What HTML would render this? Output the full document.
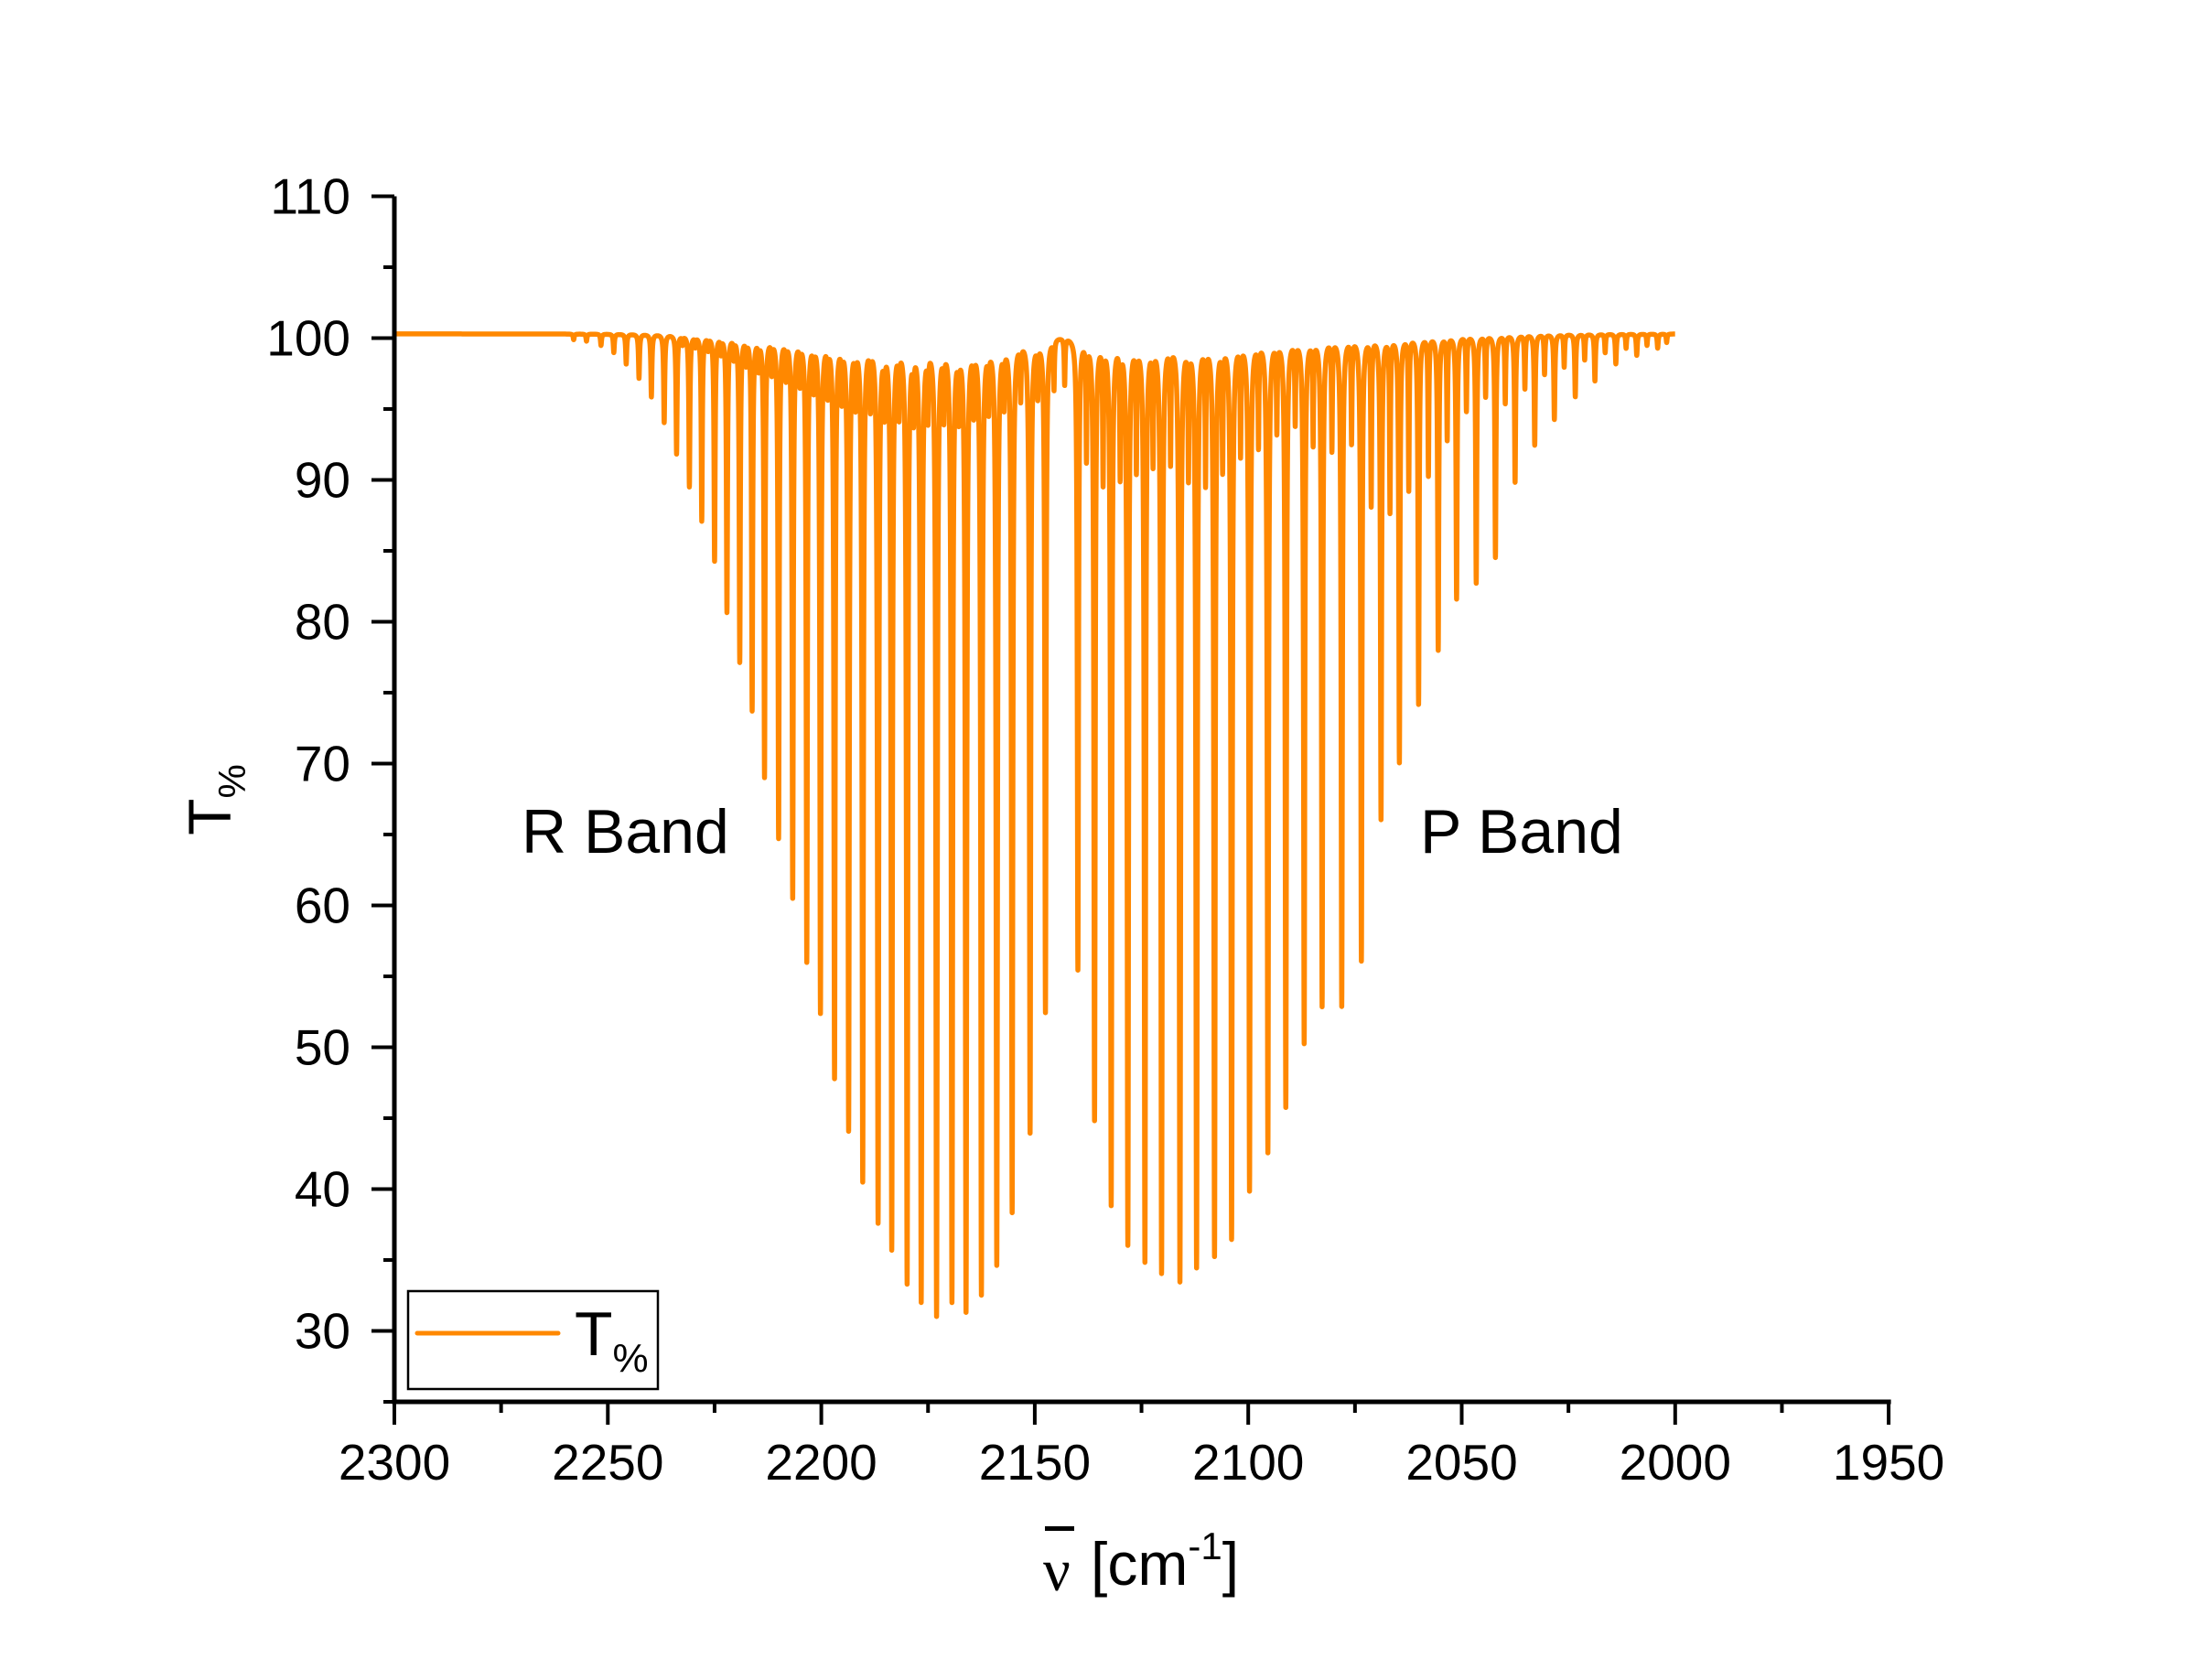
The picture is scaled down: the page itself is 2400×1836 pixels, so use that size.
<!DOCTYPE html>
<html><head><meta charset="utf-8">
<style>
html,body{margin:0;padding:0;background:#fff;}
svg{display:block;font-family:"Liberation Sans",Arial,sans-serif;}
</style></head>
<body>
<svg id="chart" width="2400" height="1836" viewBox="0 0 2400 1836" xmlns="http://www.w3.org/2000/svg">
<rect width="2400" height="1836" fill="#fff"/>
<g id="plot"></g>
<g id="axes"></g>
<text x="570" y="932" font-size="68">R Band</text>
<text x="1552" y="932" font-size="68">P Band</text>
<text transform="translate(252,874) rotate(-90)" text-anchor="middle" font-size="66">T<tspan font-size="42" dy="16">%</tspan></text>
<g>
<text x="1140" y="1738" font-size="66" font-family="Liberation Serif,serif">ν</text>
<rect x="1142" y="1668" width="32" height="5" fill="#000"/>
<text x="1192" y="1732" font-size="66">[cm<tspan font-size="42" dy="-28">-1</tspan><tspan dy="28">]</tspan></text>
</g>
<g>
<rect x="446" y="1411" width="273" height="107" fill="#fff" stroke="#000" stroke-width="2.5"/>
<line x1="456" y1="1457" x2="610" y2="1457" stroke="#ff8800" stroke-width="5" stroke-linecap="round"/>
<text x="628" y="1481" font-size="68">T<tspan font-size="44" dy="18">%</tspan></text>
</g>
</svg>
<script>
// Main R-branch lines: wavenumber, minimum transmittance
const rPos=[2258,2255,2251.6,2248.6,2245.7,2242.7,2239.8,2236.8,2233.9,2230.9,2228.0,2225.0,2222.1,2219.1,2216.2,2213.3,2210.0,2206.7,2203.4,2200.2,2196.9,2193.6,2190.3,2186.7,2183.5,2179.9,2176.6,2173.0,2169.4,2166.1,2162.5,2158.9,2155.3,2151.1,2147.5];
const rMin=[99.9,99.8,99.5,99.0,98.2,97.2,95.9,94.1,91.9,89.6,87.2,84.4,80.8,77.3,73.9,69.2,64.9,60.7,56.2,52.6,48.0,44.3,40.7,37.8,35.9,33.5,32.2,31.2,32.2,31.5,32.7,34.8,38.5,44.1,52.6];
// Main P-branch lines
const pPos=[2139.9,2136.0,2132.1,2128.2,2124.2,2120.3,2116.0,2112.1,2107.9,2103.9,2099.7,2095.4,2091.2,2086.9,2082.7,2078.1,2073.5,2068.9,2064.6,2060.1,2055.5,2051.2,2046.6,2042.1,2037.5,2032.9,2028.3,2023.4,2018.8,2013.9,2009.0,2004.1];
const pMin=[55.6,45.0,39.0,36.2,35.0,34.2,33.6,34.6,35.4,36.6,40.0,42.7,45.9,50.4,53.0,53.0,56.2,66.2,70.2,74.3,78.1,81.7,82.8,84.6,89.9,92.5,94.3,95.9,97.0,98.2,98.8,99.3];
// Weak secondary (hot-band) lines
const hPos=[2232.5,2229.5,2226.5,2223.5,2220.5,2217.6,2214.7,2211.6,2208.3,2205,2201.8,2198.5,2195.2,2192,2188.5,2185.2,2181.8,2178.4,2175,2171.3,2167.8,2164.3,2160.8,2157.2,2153.3,2149.3,2145.5,2143,2137.9,2134,2130,2126.2,2122.3,2118.2,2114,2110,2106,2101.8,2097.6,2093.3,2089,2084.8,2080.4,2075.8,2071.2,2066.8,2062.4,2057.8,2053.4,2048.9,2044.4,2039.8,2035.2,2030.6,2026,2021.2,2016.4,2011.5,2006.6,2002];
const hMin=[99.7,99.6,99.4,99.2,98.9,98.6,98.3,98,97.7,97.4,97.1,96.8,96.5,96.2,96,95.8,95.6,95.5,95.5,95.5,95.6,95.8,96,96.2,96.4,96.6,96.8,97,92,90.5,91,91.5,92,92,91,90.5,91.5,92.5,93,94,94.5,93,92.5,93,88.5,88,89.5,90.5,93,95,96,95.5,96.5,97.5,98,98.5,99,99.3,99.5,99.7];
const xTicks=[2300,2250,2200,2150,2100,2050,2000,1950];
const yTicks=[30,40,50,60,70,80,90,100,110];
const baseT=100.3;

const NS="http://www.w3.org/2000/svg";
const X0=431, PXW=4.666, Y0=1532, PXT=15.5;
function xs(w){return X0+(2300-w)*PXW;}
function ys(t){return Y0-(t-25)*PXT;}
function mk(tag,attrs,parent){const e=document.createElementNS(NS,tag);for(const k in attrs)e.setAttribute(k,attrs[k]);parent.appendChild(e);return e;}

const lines=[];
function addLines(P,M,g){for(let i=0;i<P.length;i++)lines.push([P[i],Math.log(baseT/M[i]),g]);}
addLines(rPos,rMin,0.14);addLines(pPos,pMin,0.14);addLines(hPos,hMin,0.12);

let grid=[];
for(let w=2300;w>=2000;w-=0.025)grid.push(w);
lines.forEach(l=>grid.push(l[0]));
grid.sort((a,b)=>b-a);
let d="";
grid.forEach((w,i)=>{let A=0;for(const l of lines){const u=(w-l[0])/l[2];A+=l[1]/(1+u*u);}
const t=baseT*Math.exp(-A);d+=(i?"L":"M")+xs(w).toFixed(2)+" "+ys(t).toFixed(2);});
const plot=document.getElementById('plot');
const path=mk('path',{d:d,fill:'none',stroke:'#ff8800','stroke-width':5.5,'stroke-linejoin':'round'},plot);



const axes=document.getElementById('axes');
const yAx=mk('line',{x1:X0,y1:ys(110),x2:X0,y2:Y0+2.5,stroke:'#000','stroke-width':5},axes);


const xAx=mk('line',{x1:X0-2.5,y1:Y0,x2:xs(1950)+2.5,y2:Y0,stroke:'#000','stroke-width':5},axes);


for(let t=25;t<=110;t+=5){const major=t%10===0;
const tk=mk('line',{x1:X0-(major?25:12),y1:ys(t),x2:X0,y2:ys(t),stroke:'#000','stroke-width':4},axes);

}
yTicks.forEach(v=>{const tx=mk('text',{x:383,y:ys(v)+19,'text-anchor':'end','font-size':55},axes);tx.textContent=v;

});
for(let w=2300;w>=1950;w-=25){const major=w%50===0;
const tk=mk('line',{x1:xs(w),y1:Y0,x2:xs(w),y2:Y0+(major?25:12),stroke:'#000','stroke-width':4},axes);

}
xTicks.forEach(v=>{const tx=mk('text',{x:xs(v),y:1617,'text-anchor':'middle','font-size':55},axes);tx.textContent=v;

});
</script>
</body></html>
